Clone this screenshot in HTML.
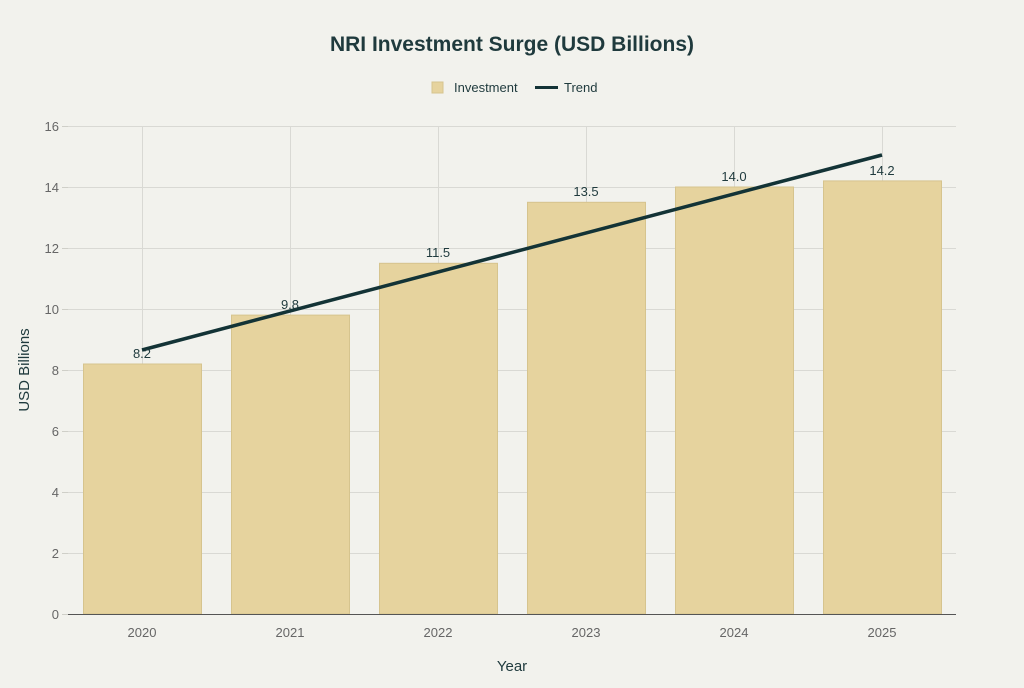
<!DOCTYPE html>
<html><head><meta charset="utf-8"><style>
body{margin:0;background:#f2f2ed;}
svg text{font-family:"Liberation Sans",sans-serif;}
</style></head><body>
<svg width="1024" height="683" viewBox="0 0 1024 683" xmlns="http://www.w3.org/2000/svg">
<rect width="1024" height="683" fill="#f2f2ed"/>
<text x="512" y="51" text-anchor="middle" font-size="21" font-weight="bold" fill="#1f3a3d">NRI Investment Surge (USD Billions)</text>
<rect x="432" y="82" width="11" height="11" fill="#e6d39e" stroke="#d6c48e"/>
<text x="454" y="92" font-size="13" fill="#1f3a3d">Investment</text>
<line x1="535" y1="87.5" x2="558" y2="87.5" stroke="#133336" stroke-width="3"/>
<text x="564" y="92" font-size="13" fill="#1f3a3d">Trend</text>
<g stroke="#d9d9d4" stroke-width="1">
<line x1="68" y1="126.5" x2="956" y2="126.5"/><line x1="68" y1="187.5" x2="956" y2="187.5"/>
<line x1="68" y1="248.5" x2="956" y2="248.5"/><line x1="68" y1="309.5" x2="956" y2="309.5"/>
<line x1="68" y1="370.5" x2="956" y2="370.5"/><line x1="68" y1="431.5" x2="956" y2="431.5"/>
<line x1="68" y1="492.5" x2="956" y2="492.5"/><line x1="68" y1="553.5" x2="956" y2="553.5"/>
<line x1="142.5" y1="126" x2="142.5" y2="614"/><line x1="290.5" y1="126" x2="290.5" y2="614"/>
<line x1="438.5" y1="126" x2="438.5" y2="614"/><line x1="586.5" y1="126" x2="586.5" y2="614"/>
<line x1="734.5" y1="126" x2="734.5" y2="614"/><line x1="882.5" y1="126" x2="882.5" y2="614"/>
</g>
<g stroke="#cfcfc8" stroke-width="1">
<line x1="62" y1="126.5" x2="68" y2="126.5"/><line x1="62" y1="187.5" x2="68" y2="187.5"/><line x1="62" y1="248.5" x2="68" y2="248.5"/><line x1="62" y1="309.5" x2="68" y2="309.5"/><line x1="62" y1="370.5" x2="68" y2="370.5"/><line x1="62" y1="431.5" x2="68" y2="431.5"/><line x1="62" y1="492.5" x2="68" y2="492.5"/><line x1="62" y1="553.5" x2="68" y2="553.5"/><line x1="62" y1="614.5" x2="68" y2="614.5"/>
</g>
<g fill="#e6d39e" stroke="#d6c48e" stroke-width="1">
<rect x="83.5" y="364" width="118" height="250"/>
<rect x="231.5" y="315.1" width="118" height="298.9"/>
<rect x="379.5" y="263.3" width="118" height="350.7"/>
<rect x="527.5" y="202.3" width="118" height="411.7"/>
<rect x="675.5" y="187" width="118" height="427"/>
<rect x="823.5" y="180.9" width="118" height="433.1"/>
</g>
<line x1="68" y1="614.5" x2="956" y2="614.5" stroke="#555" stroke-width="1"/>
<line x1="142" y1="350" x2="882" y2="155" stroke="#133336" stroke-width="3.5"/>
<g font-size="13" fill="#1f3a3d" text-anchor="middle">
<text x="142" y="358">8.2</text><text x="290" y="309">9.8</text><text x="438" y="257">11.5</text>
<text x="586" y="196">13.5</text><text x="734" y="181">14.0</text><text x="882" y="175">14.2</text>
</g>
<g font-size="13" fill="#666" text-anchor="end">
<text x="59" y="131">16</text><text x="59" y="192">14</text><text x="59" y="253">12</text><text x="59" y="314">10</text>
<text x="59" y="375">8</text><text x="59" y="436">6</text><text x="59" y="497">4</text><text x="59" y="558">2</text><text x="59" y="619">0</text>
</g>
<g font-size="13" fill="#666" text-anchor="middle">
<text x="142" y="637">2020</text><text x="290" y="637">2021</text><text x="438" y="637">2022</text>
<text x="586" y="637">2023</text><text x="734" y="637">2024</text><text x="882" y="637">2025</text>
</g>
<text x="512" y="671" text-anchor="middle" font-size="15" fill="#1f3a3d">Year</text>
<text transform="translate(29,370) rotate(-90)" text-anchor="middle" font-size="15" fill="#1f3a3d">USD Billions</text>
</svg>
</body></html>
